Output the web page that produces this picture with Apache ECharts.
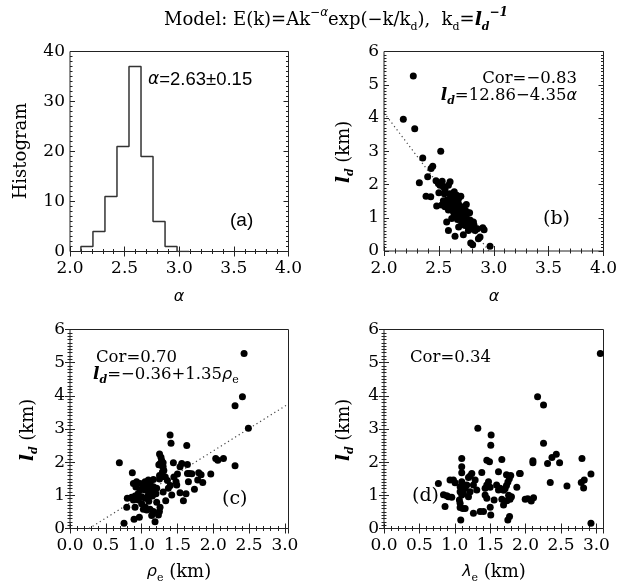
<!DOCTYPE html>
<html><head><meta charset="utf-8">
<script src="https://cdn.jsdelivr.net/npm/echarts@6/dist/echarts.min.js"></script>
<style>html,body{margin:0;padding:0;background:#fff}#c{width:629px;height:583px}</style>
</head><body><div id="c"></div>
<script>
// ---------------- data ----------------
const histEdges  = [2.10, 2.21, 2.32, 2.43, 2.54, 2.65, 2.76, 2.87, 2.98, 3.09];
const histCounts = [1, 4, 11, 21, 37, 19, 6, 1, 0];

// panel (b): alpha vs l_d (km)
const alphaLd = [
[2.267,5.26],[2.176,3.96],[2.28,3.68],[2.517,3.00],[2.353,2.80],[2.444,2.55],[2.429,2.48],[2.398,2.23],[2.322,2.05],
[2.474,2.11],[2.495,2.03],[2.51,1.98],[2.602,2.08],[2.587,1.98],[2.541,1.93],[2.556,1.85],[2.383,1.65],[2.426,1.63],
[2.663,1.68],[2.632,1.63],[2.602,1.58],[2.571,1.53],[2.541,1.51],[2.526,1.38],[2.48,1.35],[2.556,1.33],[2.602,1.33],
[2.647,1.38],[2.678,1.43],[2.708,1.33],[2.738,1.23],[2.754,1.18],[2.587,1.23],[2.632,1.18],[2.663,1.13],[2.693,1.08],
[2.723,1.03],[2.754,0.98],[2.784,0.93],[2.799,0.87],[2.815,0.87],[2.571,0.87],[2.617,0.98],[2.708,0.82],[2.738,0.77],
[2.769,0.72],[2.799,0.67],[2.83,0.62],[2.851,0.67],[2.9,0.70],[2.912,0.64],[2.587,0.62],[2.647,0.44],[2.723,0.49],
[2.769,0.62],[2.86,0.37],[2.875,0.42],[2.79,0.24],[2.808,0.19],[2.966,0.14],
[2.62,1.45],[2.65,1.52],[2.68,1.58],[2.66,1.25],[2.70,1.20],[2.72,1.12],[2.69,1.00],[2.74,1.07],[2.76,0.90],[2.64,1.08],
[2.67,0.95],[2.71,0.92],[2.73,0.80],[2.61,1.28],[2.55,1.72],[2.50,1.75],[2.53,2.10],[2.64,1.78],[2.70,1.65],[2.75,1.40],
[2.78,1.15],[2.68,0.72],[2.82,0.78],[2.60,1.72],[2.58,1.42]
];

// panel (c): rho_e (km) vs l_d (km)
const rhoLd = [
[2.43,5.28],[2.407,3.97],[2.304,3.70],[2.49,3.02],[1.397,2.82],[1.41,2.57],[1.63,2.50],[0.689,1.98],
[1.25,2.25],[1.27,2.15],[1.28,2.05],[1.30,1.98],[1.26,1.96],[1.24,1.92],[1.28,1.90],[1.30,1.86],
[1.443,1.98],[1.56,1.96],[1.536,1.86],[1.639,1.93],[0.87,1.68],[1.25,1.60],[1.26,1.55],[1.25,1.49],
[1.50,1.64],[1.64,1.66],[1.667,1.66],[1.797,1.68],[1.965,1.64],[1.653,1.41],[1.783,1.46],[1.853,1.39],
[2.034,2.11],[2.063,2.06],[2.142,2.11],[2.304,1.89],
[0.885,1.36],[0.93,1.41],[0.978,1.36],[1.024,1.31],[1.07,1.26],[1.117,1.36],[1.164,1.26],[1.21,1.21],[1.094,1.46],[1.164,1.48],[1.048,1.41],
[1.373,1.21],[1.49,1.31],[1.48,1.41],[1.737,1.18],
[0.80,0.91],[0.861,0.94],[0.908,0.98],[0.931,0.91],[0.885,0.86],[0.955,0.86],[1.001,0.96],[1.048,0.91],[1.094,1.01],[1.117,1.11],[1.048,1.16],[0.978,1.16],
[1.42,1.01],[1.536,1.08],[1.583,0.84],[1.336,0.84],[1.21,0.79],
[0.792,0.64],[0.908,0.64],[1.024,0.58],[1.071,0.56],[1.117,0.58],[1.164,0.51],[1.257,0.64],[1.248,0.51],
[0.894,0.28],[0.968,0.34],[1.14,0.39],[1.234,0.41],[1.187,0.20],[0.754,0.16],
[1.33,1.55],[1.36,1.45],[1.29,1.70],[1.31,1.75],[1.15,1.20],[0.95,1.05],[1.00,0.75],[1.10,0.82],[1.20,1.05],[1.40,1.30],
[1.70,1.65],[1.83,1.62],[1.62,1.05],[1.15,0.98],[0.92,1.25],[1.30,1.10],[1.45,1.55],[1.05,0.65]
];

// panel (d): lambda_e (km) vs l_d (km)
const lambdaLd = [
[3.055,5.28],[2.169,3.97],[2.253,3.72],[2.253,2.57],[2.433,2.24],[2.372,2.14],[2.31,1.96],[2.48,1.98],[2.103,2.04],[2.103,1.98],
[2.796,2.11],[2.923,1.64],[1.924,1.66],[2.348,1.39],[2.584,1.28],[2.786,1.39],[2.828,1.46],[2.819,1.22],[1.994,0.88],[2.03,0.90],
[2.08,0.83],[2.112,0.93],[2.923,0.16],
[1.325,3.02],[1.513,2.82],[1.508,2.51],[1.098,2.11],[1.452,2.06],[1.49,2.01],[1.664,2.08],[1.098,1.86],[1.381,1.69],[1.617,1.71],
[1.098,1.68],[1.24,1.66],[1.216,1.58],[1.193,1.54],[0.98,1.46],
[1.73,1.62],[1.79,1.60],[1.77,1.50],[1.75,1.40],[1.73,1.30],[1.71,1.20],[1.69,1.15],[1.914,1.66],
[0.768,1.36],[0.933,1.46],[1.004,1.38],[1.098,1.41],[1.122,1.31],[1.169,1.31],[1.075,1.26],[1.146,1.21],[1.287,1.46],[1.263,1.31],
[1.476,1.41],[1.452,1.31],[1.428,1.21],[1.499,1.24],[1.59,1.31],[1.64,1.21],[1.617,1.16],[1.876,1.24],
[0.886,0.99],[0.957,0.94],[0.91,0.96],[0.84,1.02],[1.075,1.11],[1.098,1.01],[1.122,1.06],[1.065,0.86],[1.075,0.76],
[1.216,1.11],[1.193,0.96],[1.31,1.16],[1.428,1.01],[1.452,0.91],[1.555,0.86],[1.664,0.88],[1.76,1.00],[1.78,0.88],[1.80,0.96],
[0.862,0.66],[1.075,0.63],[1.112,0.60],[1.146,0.60],[1.263,0.46],[1.358,0.51],[1.405,0.51],[1.50,0.64],[1.508,0.41],
[1.688,0.71],[1.735,0.84],[1.773,0.36],[1.749,0.26],[1.084,0.26]
];

// linear fits  l_d = a + b*x
const fitAlpha = [12.86, -4.35];
const fitRho   = [-0.36, 1.35];

// ---------------- chart ----------------
const chart = echarts.init(document.getElementById('c'), null, {renderer: 'canvas'});
const SERIF = 'DejaVu Serif';
const FC = '#222';

const grids = [
  {left: 70,  top: 51.5, width: 218.5, height: 200},
  {left: 384, top: 51.5, width: 219.5, height: 199.5},
  {left: 70,  top: 329.5, width: 218.5, height: 199},
  {left: 384, top: 329.5, width: 219.5, height: 199}
].map(g => Object.assign({show: true, borderColor: FC, borderWidth: 1, backgroundColor: 'transparent'}, g));

const xSpec = [
  {min: 2, max: 4, interval: 0.5, minor: 5},
  {min: 2, max: 4, interval: 0.5, minor: 5},
  {min: 0, max: 3.05, interval: 0.5, minor: 5},
  {min: 0, max: 3.1, interval: 0.5, minor: 5}
];
const ySpec = [
  {min: 0, max: 40, interval: 10, minor: 10},
  {min: 0, max: 6, interval: 1, minor: 10},
  {min: 0, max: 6, interval: 1, minor: 10},
  {min: 0, max: 6, interval: 1, minor: 10}
];

function axis(spec, gi, pos, labels, isX) {
  return {
    type: 'value', gridIndex: gi, position: pos,
    min: spec.min, max: spec.max, interval: spec.interval,
    axisLine: {show: false},
    splitLine: {show: false},
    axisTick: {show: true, inside: true, length: 5, lineStyle: {color: FC, width: 1}},
    minorTick: {show: true, splitNumber: spec.minor, length: 2.5, lineStyle: {color: FC, width: 1}},
    axisLabel: {
      show: labels, showMaxLabel: !(isX && spec.max % spec.interval > 1e-9),
      fontFamily: SERIF, fontSize: 17, color: '#000', margin: isX ? 9 : 5,
      formatter: v => isX ? v.toFixed(1) : String(Math.round(v))
    }
  };
}
const xAxes = [], yAxes = [];
for (let i = 0; i < 4; i++) xAxes.push(axis(xSpec[i], i, 'bottom', true, true));
for (let i = 0; i < 4; i++) xAxes.push(axis(xSpec[i], i, 'top', false, true));
for (let i = 0; i < 4; i++) yAxes.push(axis(ySpec[i], i, 'left', true, false));
for (let i = 0; i < 4; i++) yAxes.push(axis(ySpec[i], i, 'right', false, false));

// histogram step outline
const histLine = [[histEdges[0], 0]];
for (let i = 0; i < histCounts.length; i++) {
  histLine.push([histEdges[i], histCounts[i]]);
  histLine.push([histEdges[i + 1], histCounts[i]]);
}

function fitLine(f, x0, x1) { return [[x0, f[0] + f[1] * x0], [x1, f[0] + f[1] * x1]]; }
const fitB = fitLine(fitAlpha, 2.0, -fitAlpha[0] / fitAlpha[1]);
const fitC = fitLine(fitRho, -fitRho[0] / fitRho[1], xSpec[2].max);

function scatter(data, i) {
  return {type: 'scatter', xAxisIndex: i, yAxisIndex: i, data: data, symbol: 'circle', symbolSize: 7,
          itemStyle: {color: '#000', opacity: 1}, silent: true, z: 3};
}
function dotted(data, i) {
  return {type: 'line', xAxisIndex: i, yAxisIndex: i, data: data, showSymbol: false, silent: true,
          lineStyle: {color: '#444', width: 1.2, type: [1.2, 3]}, z: 2};
}

// text helpers (zrender style names)
const RICH = {
  n:   {fontFamily: SERIF, fontSize: 16.5, fill: '#000', lineHeight: 22},
  i:   {fontFamily: SERIF, fontSize: 17, fontStyle: 'italic', fontWeight: 'bold', fill: '#000', lineHeight: 22},
  sb:  {fontFamily: SERIF, fontSize: 11, fill: '#000', verticalAlign: 'bottom', lineHeight: 11},
  sbi: {fontFamily: SERIF, fontSize: 11, fontStyle: 'italic', fontWeight: 'bold', fill: '#000', verticalAlign: 'bottom', lineHeight: 11},
  sp:  {fontFamily: SERIF, fontSize: 12, fill: '#000', verticalAlign: 'top', lineHeight: 12},
  spi: {fontFamily: SERIF, fontSize: 12, fontStyle: 'italic', fontWeight: 'bold', fill: '#000', verticalAlign: 'top', lineHeight: 12},
  g:   {fontFamily: 'DejaVu Sans', fontSize: 16, fontStyle: 'italic', fill: '#000', lineHeight: 22},
  gs:  {fontFamily: 'DejaVu Sans', fontSize: 12, fontStyle: 'italic', fill: '#000', verticalAlign: 'top', lineHeight: 12},
  h:   {fontFamily: 'Liberation Sans', fontSize: 18.5, fill: '#000', lineHeight: 22},
  ha:  {fontFamily: 'Liberation Sans', fontSize: 19, fill: '#000', lineHeight: 22},
  hg:  {fontFamily: 'DejaVu Sans', fontSize: 17, fontStyle: 'italic', fill: '#000', lineHeight: 22},
  L:   {fontFamily: SERIF, fontSize: 19, fill: '#000', lineHeight: 22},
  T:   {fontFamily: SERIF, fontSize: 18, fill: '#000', lineHeight: 26},
  Ti:  {fontFamily: SERIF, fontSize: 19, fontStyle: 'italic', fontWeight: 'bold', fill: '#000', lineHeight: 26},
  Y:   {fontFamily: SERIF, fontSize: 18, fill: '#000', lineHeight: 24},
  Yi:  {fontFamily: SERIF, fontSize: 19, fontStyle: 'italic', fontWeight: 'bold', fill: '#000', lineHeight: 24}
};
function txt(x, y, text, align, rot) {
  return {type: 'text', x: x, y: y, rotation: rot || 0, silent: true, z: 10,
    style: {text: text, rich: RICH, fill: '#000', font: '16px "DejaVu Serif"',
            align: align || 'left', textAlign: align || 'left',
            verticalAlign: 'middle', textVerticalAlign: 'middle'}};
}
const R90 = Math.PI / 2;
const graphics = [
  txt(336, 20, '{T|Model: E(k)=Ak}{gs|−α}{T|exp(−k/k}{sb|d}{T|),  k}{sb|d}{T|=}{Ti|l}{sbi|d}{spi|−1}', 'center'),
  // panel a
  txt(148, 80, '{hg|α}{h|=2.63±0.15}', 'left'),
  txt(230, 221, '{ha|(a)}', 'left'),
  txt(21, 151, '{Y|Histogram}', 'center', R90),
  txt(179, 297, '{g|α}', 'center'),
  // panel b
  txt(577, 79, '{n|Cor=−0.83}', 'right'),
  txt(577, 96, '{i|l}{sbi|d}{n|=12.86−4.35}{g|α}', 'right'),
  txt(543, 219, '{L|(b)}', 'left'),
  txt(344, 152, '{Yi|l}{sbi|d}{Y| (km)}', 'center', R90),
  txt(494, 297, '{g|α}', 'center'),
  // panel c
  txt(96, 358, '{n|Cor=0.70}', 'left'),
  txt(93, 375, '{i|l}{sbi|d}{n|=−0.36+1.35}{g|ρ}{sb|e}', 'left'),
  txt(222, 499, '{L|(c)}', 'left'),
  txt(28, 430, '{Yi|l}{sbi|d}{Y| (km)}', 'center', R90),
  txt(179, 572, '{g|ρ}{sb|e}{Y| (km)}', 'center'),
  // panel d
  txt(410, 358, '{n|Cor=0.34}', 'left'),
  txt(412, 496, '{L|(d)}', 'left'),
  txt(344, 430, '{Yi|l}{sbi|d}{Y| (km)}', 'center', R90),
  txt(494, 572, '{g|λ}{sb|e}{Y| (km)}', 'center')
];

chart.setOption({
  animation: false,
  backgroundColor: '#fff',
  grid: grids,
  xAxis: xAxes,
  yAxis: yAxes,
  series: [
    {type: 'line', xAxisIndex: 0, yAxisIndex: 0, data: histLine, showSymbol: false, silent: true,
     lineStyle: {color: '#333', width: 1.5}},
    dotted(fitB, 1), scatter(alphaLd, 1),
    dotted(fitC, 2), scatter(rhoLd, 2),
    scatter(lambdaLd, 3)
  ],
  graphic: graphics
});
</script>
</body></html>
